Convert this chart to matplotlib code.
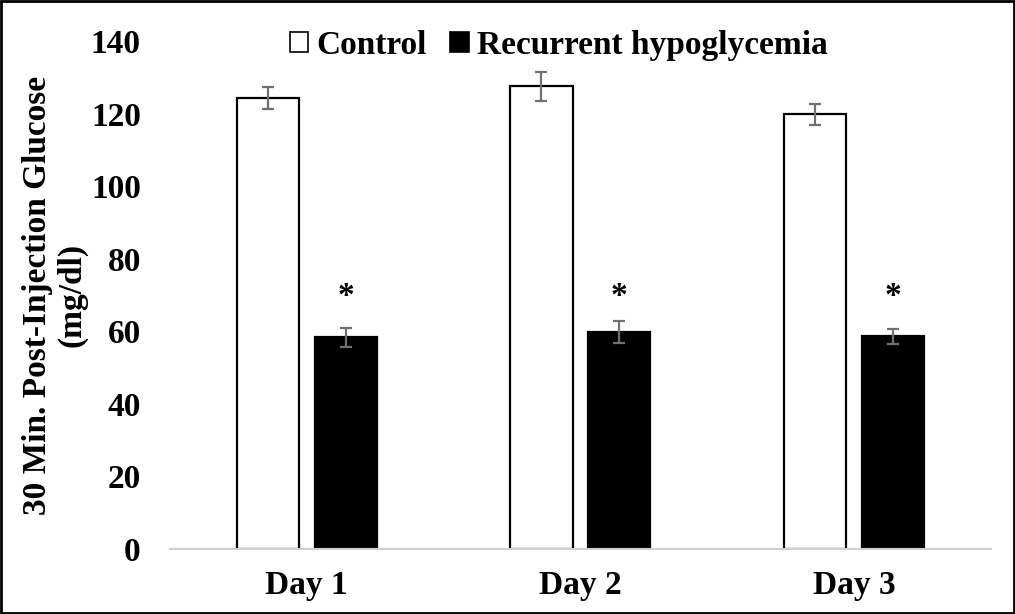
import matplotlib.pyplot as plt
import numpy as np

days = ["Day 1", "Day 2", "Day 3"]
control = [124.3, 127.5, 119.8]
control_err = [3.0, 4.0, 3.0]
hypo = [58.3, 59.8, 58.6]
hypo_err = [2.5, 3.0, 2.0]
star_level = 69.5

plt.rcParams['font.family'] = ['Liberation Serif', 'DejaVu Serif']
plt.rcParams['font.weight'] = 'bold'

fig = plt.figure(figsize=(10.15, 6.14), dpi=100)
ax = fig.add_axes([0.1675, 0.106, 0.8085, 0.827])

x = np.arange(len(days))
w = 0.227
off = 0.142
err_kw = dict(ecolor='#707070', elinewidth=1.6, capsize=4.5, capthick=1.6)

ax.bar(x - off, control, w, yerr=control_err, color='white', edgecolor='black',
       linewidth=1.6, label='Control', error_kw=err_kw, zorder=2)
ax.bar(x + off, hypo, w, yerr=hypo_err, color='black', edgecolor='black',
       linewidth=1.6, label='Recurrent hypoglycemia', error_kw=err_kw, zorder=2)

# significance markers
for xi in x:
    ax.text(xi + off, star_level, '*', ha='center', va='center', fontsize=24,
            fontweight='bold')

ax.set_xlim(-0.5, 2.5)
ax.set_ylim(0, 140)
ax.set_yticks(range(0, 141, 20))
ax.set_xticks(x)
ax.set_xticklabels(days)
ax.tick_params(axis='both', length=0, labelsize=24)
ax.tick_params(axis='y', pad=21)
ax.tick_params(axis='x', pad=15)
for t in ax.get_xticklabels() + ax.get_yticklabels():
    t.set_fontweight('bold')

for s in ['top', 'right', 'left']:
    ax.spines[s].set_visible(False)
ax.spines['bottom'].set_color('#d0d0d0')
ax.spines['bottom'].set_linewidth(1.5)

ax.set_ylabel('30 Min. Post-Injection Glucose\n(mg/dl)', fontsize=24,
              fontweight='bold', linespacing=1.1)
ax.yaxis.set_label_coords(-0.101, 0.5)

leg = ax.legend(loc='center', bbox_to_anchor=(0.474, 0.992), ncol=2,
                frameon=False, handlelength=0.55, handleheight=0.55,
                handletextpad=0.25, columnspacing=0.7,
                prop={'weight': 'bold', 'size': 24})
for h in leg.legend_handles:
    h.set_linewidth(1.2)

fig.patches.append(plt.Rectangle((0.001, 0.001), 0.998, 0.997, transform=fig.transFigure,
                                 fill=False, edgecolor='black', linewidth=2))

fig.savefig('out.png', dpi=100)
